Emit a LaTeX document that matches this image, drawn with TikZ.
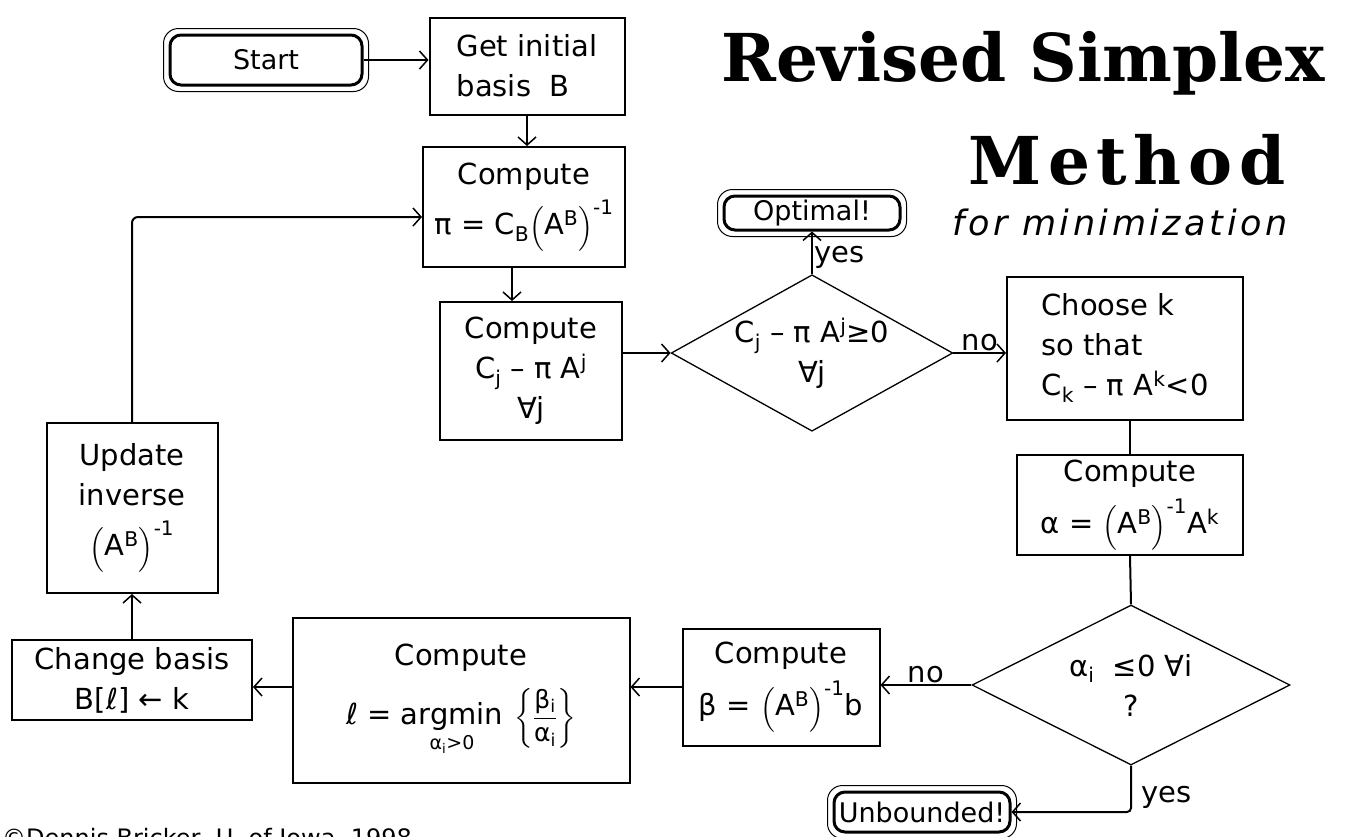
\documentclass[tikz,border=0pt]{standalone}
\usepackage{amsmath}
\usepackage{fontspec}
\setmainfont{DejaVu Sans}
\newfontfamily\headfont{DejaVu Serif}
\usetikzlibrary{shapes.geometric,arrows.meta}

% (A^B)^{-1}
\newcommand{\invB}{$\left(\hbox{A\textsuperscript{B}}\right)^{\hbox{\fontsize{20}{20}\selectfont -1}}$}

\tikzset{
  stepbox/.style={draw, line width=2pt, align=center, inner sep=2pt},
  decision/.style={draw, diamond, aspect=1.8, inner sep=0pt, line width=1.3pt, align=center},
  termbox/.style={draw, line width=3pt, rounded corners=11pt, inner sep=1pt, font=\fontsize{27}{30}\selectfont},
  termrim/.style={line width=1pt, rounded corners=15pt},
  flow/.style={line width=2pt, -{Straight Barb[length=8pt,width=18pt,line width=1.5pt]}},
  link/.style={line width=2pt},
  answer/.style={inner sep=1pt}
}

\begin{document}
\begin{tikzpicture}[x=1pt, y=-1pt, font=\fontsize{29}{40}\selectfont]
\useasboundingbox (0,0) rectangle (1346,836);

% title
\node[font=\headfont\bfseries\fontsize{66}{72}\selectfont] (title) at (1023,63) {Revised Simplex};
\node[font=\headfont\bfseries\fontsize{66}{72}\selectfont\addfontfeature{LetterSpace=10}] (method) at (1127,160) {Method};
\node[font=\itshape\fontsize{35}{38}\selectfont\addfontfeature{LetterSpace=10}] (minim) at (1120,222) {for minimization};

% boxes
\node[termbox, minimum width=192pt, minimum height=50pt] (start) at (266,60) {Start};
\node[stepbox, minimum width=195pt, minimum height=97pt, align=left] (getB) at (527,66) {Get initial\\basis\ \ B};
\node[stepbox, minimum width=202pt, minimum height=120pt] (piBox) at (524,207) {Compute\\[8pt]π = C\textsubscript{B}\invB};
\node[stepbox, minimum width=182pt, minimum height=138pt] (cjBox) at (531,371) {Compute\\C\textsubscript{j} – π A\textsuperscript{j}\\∀j};
\node[decision, minimum width=259pt, minimum height=153pt] (test1) at (812,353) {C\textsubscript{j} – π A\textsuperscript{j}≥0\\∀j};
\node[termbox, minimum width=176pt, minimum height=34pt] (optimal) at (812,213) {Optimal!};
\node[stepbox, minimum width=236pt, minimum height=143pt, align=left] (chooseK) at (1125,348) {Choose k\\so that\\C\textsubscript{k} – π A\textsuperscript{k}<0};
\node[stepbox, minimum width=226pt, minimum height=100pt] (alphaBox) at (1130,505) {Compute\\[10pt]α = \invB A\textsuperscript{k}};
\node[decision, minimum width=318pt, minimum height=160pt] (test2) at (1131,685) {α\textsubscript{i}\ \ ≤0 ∀i\\?};
\node[stepbox, minimum width=197pt, minimum height=117pt] (betaBox) at (781,687) {Compute\\[10pt]β = \invB b};
\node[stepbox, minimum width=337pt, minimum height=165pt] (ellBox) at (461,700)
  {Compute\\[16pt]ℓ = $\underset{\hbox{\fontsize{19}{19}\selectfont α\textsubscript{i}>0}}{\hbox{argmin}}\;
   \left\{\dfrac{\hbox{\fontsize{25}{25}\selectfont β\textsubscript{i}}}{\hbox{\fontsize{25}{25}\selectfont α\textsubscript{i}}}\right\}$};
\node[stepbox, minimum width=240pt, minimum height=80pt] (changeBox) at (132,680) {Change basis\\B[ℓ] ← k};
\node[stepbox, minimum width=171pt, minimum height=170pt] (updateBox) at (132,508) {Update\\inverse\\[10pt]\invB};
\node[termbox, minimum width=176pt, minimum height=40pt] (unbounded) at (922,812) {Unbounded!};

% outer rims of the terminals
\foreach \t in {start,optimal,unbounded}
  \draw[termrim] ([shift={(-5pt,5pt)}]\t.north west) rectangle ([shift={(5pt,-5pt)}]\t.south east);

% connectors
\draw[flow] (start) -- (start -| getB.west);
\draw[flow] (getB.south) -- (getB.south |- piBox.north);
\draw[flow] ([xshift=-12pt]piBox.south) -- ([xshift=-12pt]piBox.south |- cjBox.north);
\draw[flow] (cjBox.east |- test1.west) -- (test1.west);
\draw[flow] (test1.north) -- (optimal.south) node[answer, pos=0.4, right] (yesTop) {yes};
\draw[flow] (test1.east) -- (test1.east -| chooseK.west) node[answer, midway, above] (noRight) {no};
\draw[link] (alphaBox.north |- chooseK.south) -- (alphaBox.north);
\draw[link] (alphaBox.south) -- (test2.north);
\draw[flow] (test2.west) -- (test2.west -| betaBox.east) node[answer, midway, above] (noLeft) {no};
\draw[flow] (betaBox.west) -- (betaBox.west -| ellBox.east);
\draw[flow] (betaBox.west -| ellBox.west) -- (betaBox.west -| changeBox.east);
\draw[flow] (changeBox.north) -- (changeBox.north |- updateBox.south);
\draw[flow, rounded corners=6pt] (updateBox.north) |- ([yshift=-10pt]piBox.west);
\draw[flow, rounded corners=4pt] (test2.south) |- (unbounded.east);
\node[answer, right] (yesBottom) at (1140,797) {yes};

\node[anchor=north west, inner sep=0pt, font=\fontsize{24}{28}\selectfont] (credit) at (2,828) {©Dennis Bricker, U. of Iowa, 1998};
\end{tikzpicture}
\end{document}
